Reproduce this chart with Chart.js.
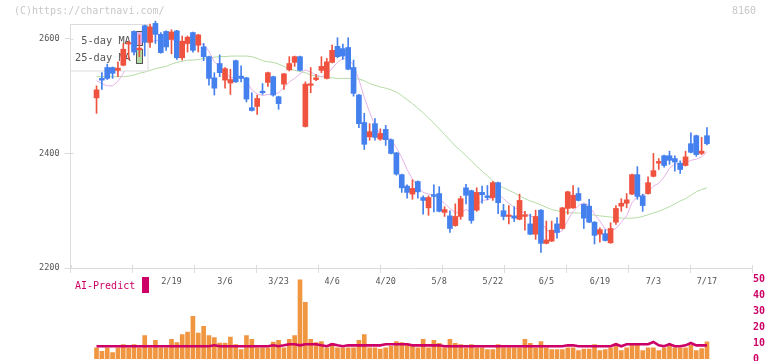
<!DOCTYPE html>
<html><head><meta charset="utf-8">
<script src="https://cdn.jsdelivr.net/npm/chart.js@4/dist/chart.umd.min.js"></script>
<style>
html,body{margin:0;padding:0;background:#fff;overflow:hidden;width:772px;height:361px}
#wrap{position:relative;width:772px;height:361px;overflow:hidden}
canvas{position:absolute;left:0;top:0}
.t{position:absolute;font-family:'DejaVu Sans Mono',monospace;white-space:pre;line-height:1}
</style></head><body>
<div id="wrap">
<canvas id="price" width="772" height="300" style="width:772px;height:300px"></canvas>
<canvas id="vol" width="772" height="380" style="width:772px;height:380px"></canvas>
<div class="t" style="left:14px;top:6px;font-size:10px;color:#c8c8c8">(C)https://chartnavi.com/</div>
<div class="t" style="left:732px;top:6px;font-size:10px;color:#c8c8c8">8160</div>
<div class="t" style="left:75px;top:281px;font-size:10px;color:#cc0066">AI-Predict</div>
<div style="position:absolute;left:142px;top:277px;width:7px;height:16px;background:#cc0066"></div>
</div>
<script>
// ---- data ----
const dateLabels = ['2/19','3/6','3/23','4/6','4/20','5/8','5/22','6/5','6/19','7/3','7/17'];
const dateIdx    = [14,24,34,44,54,64,74,84,94,104,114];
const priceTicks = [2200,2400,2600];

const openP = [2497,2531,2550,2550,2545,2554,2591,2613,2581,2623,
2594,2627,2608,2613,2599,2614,2567,2592,2611,2589,
2586,2569,2532,2557,2528,2523,2562,2535,2532,2480,
2482,2508,2524,2534,2499,2521,2546,2559,2569,2447,
2519,2529,2545,2531,2559,2587,2583,2585,2550,2502,
2454,2429,2452,2425,2442,2424,2401,2363,2343,2329,
2351,2323,2305,2328,2330,2297,2291,2274,2290,2340,
2335,2301,2332,2326,2323,2349,2300,2290,2291,2285,
2290,2277,2259,2301,2243,2247,2277,2269,2304,2305,
2330,2311,2308,2280,2259,2260,2244,2280,2308,2313,
2329,2363,2326,2330,2360,2383,2396,2396,2391,2383,
2379,2417,2431,2400,2431];
const highP = [2518,2541,2556,2551,2560,2592,2596,2614,2607,2624,
2626,2631,2611,2614,2616,2615,2605,2605,2612,2608,
2592,2570,2541,2572,2550,2547,2563,2553,2533,2506,
2502,2522,2542,2535,2500,2540,2569,2570,2570,2525,
2550,2538,2569,2566,2589,2602,2591,2602,2563,2503,
2470,2452,2461,2443,2449,2425,2402,2364,2345,2354,
2352,2326,2326,2345,2342,2307,2300,2312,2325,2346,
2336,2340,2343,2344,2351,2350,2311,2309,2307,2329,
2299,2294,2301,2302,2282,2282,2288,2306,2334,2344,
2340,2312,2320,2281,2270,2267,2279,2309,2321,2330,
2364,2377,2329,2359,2400,2391,2397,2404,2396,2387,
2404,2436,2432,2428,2445];
const lowP = [2470,2512,2529,2531,2534,2553,2564,2572,2569,2570,
2585,2592,2575,2580,2574,2564,2563,2577,2577,2577,
2562,2519,2502,2534,2514,2503,2524,2525,2490,2474,
2468,2503,2517,2500,2477,2512,2544,2552,2544,2446,
2506,2527,2541,2530,2558,2567,2564,2546,2500,2445,
2407,2423,2423,2423,2414,2399,2362,2332,2322,2320,
2322,2294,2292,2298,2298,2290,2262,2273,2285,2312,
2278,2299,2313,2319,2318,2295,2284,2277,2281,2284,
2266,2258,2250,2227,2242,2246,2252,2268,2294,2304,
2317,2269,2279,2242,2245,2247,2243,2276,2299,2305,
2328,2320,2299,2329,2359,2372,2376,2381,2369,2365,
2378,2401,2395,2398,2415];
const closeP = [2511,2528,2531,2540,2549,2582,2592,2577,2584,2594,
2621,2608,2576,2586,2612,2567,2596,2603,2580,2607,
2569,2531,2514,2541,2548,2529,2525,2531,2495,2475,
2496,2506,2541,2502,2487,2539,2557,2569,2545,2521,
2520,2532,2552,2560,2580,2569,2570,2547,2505,2452,
2416,2438,2428,2435,2424,2400,2364,2340,2332,2339,
2333,2318,2323,2325,2299,2302,2269,2290,2321,2327,
2283,2332,2328,2323,2349,2314,2290,2291,2287,2318,
2293,2259,2290,2243,2249,2266,2262,2305,2333,2327,
2318,2287,2280,2257,2267,2248,2269,2304,2313,2319,
2363,2325,2309,2349,2370,2386,2379,2388,2385,2372,
2394,2402,2398,2404,2417];
const ma5 = [2527,2522,2518,2518,2526,2540,2557,2568,2577,2586,
2594,2597,2597,2597,2601,2590,2587,2593,2592,2591,
2591,2578,2560,2552,2541,2533,2531,2535,2526,2511,
2504,2501,2503,2504,2506,2515,2525,2531,2539,2546,
2542,2537,2534,2537,2549,2559,2566,2565,2554,2529,
2498,2472,2448,2434,2428,2425,2410,2393,2372,2355,
2342,2332,2329,2328,2320,2313,2304,2297,2296,2302,
2298,2311,2318,2319,2323,2329,2321,2313,2306,2300,
2296,2290,2289,2281,2267,2261,2262,2265,2283,2299,
2309,2314,2309,2294,2282,2268,2264,2269,2280,2291,
2314,2325,2326,2333,2343,2348,2359,2374,2382,2382,
2384,2388,2390,2394,2403];
const ma25 = [2534,2534,2534,2534,2534,2534,2535,2537,2540,2542,
2545,2548,2550,2552,2556,2559,2561,2563,2563,2564,
2566,2567,2568,2569,2569,2570,2570,2570,2570,2569,
2566,2562,2560,2559,2556,2552,2547,2545,2543,2541,
2537,2535,2534,2533,2532,2531,2531,2531,2531,2530,
2527,2522,2519,2516,2514,2511,2507,2501,2494,2487,
2479,2471,2462,2453,2443,2433,2423,2413,2405,2396,
2387,2378,2369,2361,2352,2345,2340,2336,2331,2326,
2321,2317,2314,2310,2306,2302,2300,2298,2297,2296,
2296,2295,2294,2292,2291,2290,2289,2288,2287,2287,
2287,2288,2290,2293,2296,2299,2303,2307,2312,2317,
2321,2327,2333,2337,2340];
const volume = [7,4.9,7,4.1,7,9.1,7,9.1,7,14.8,
7,11.7,7,7,12.3,10.4,15.4,16.9,26.8,16.3,
20.5,14.8,13.4,10,10,13.8,9.1,6,14.8,12.3,
7,7,7,10.6,11.7,7,12.3,14.8,50.1,35.6,
12.3,10.4,11,7,9.9,7,7,7,7,11.7,
15.4,7,7,6.2,7.1,7.9,11,10.4,9.5,7.9,
7.1,12.3,7.1,11.7,9.9,7.1,12.3,9.9,9.1,7.1,
9.1,7.1,7.1,6,6,9.1,7.1,7.1,7.1,7.1,
12.3,9.9,7.1,11,7.1,6,6,6,7.1,7.1,
5.3,6.2,6.2,9.1,5.3,6,7.1,9.5,5.3,7.1,
9.1,9.1,5.3,7.1,7.1,5.3,7.1,7.9,7.1,7.1,
7.1,8.6,5.3,6.6,10.8];
const aiPredict = [8,8,8,8,8,8,8,8,8,8,
8,8,8,8,8,8,8,8,8,8,
8,8,8.6,8,8,8,8,8,8,8,
8,8,8,8.6,8,8.6,9.3,9.3,8.6,9.3,
9.3,9.3,8.6,8,9.3,8.6,8,8.6,8.6,8.6,
8.6,8.6,8.6,8.6,9.3,9.3,9.3,9.3,9.3,8.6,
8.6,8.6,8.6,8.6,8.6,8,8,8,8,8,
8,8,8,8,8,8,8,8,8,8,
8,8,8,8,8,8,8,8,8.6,8.6,
8,8,8,8,8,8,8,9.3,8,9.3,
9.3,9.3,9.3,9.3,10.7,8.6,8,9.3,8,8,
8.6,10.1,8.6,8.6,8.6];
const volTicks = [0,10,20,30,40,50];

// ---- layout constants (not data) ----
const X_MIN = -4.86, X_MAX = 122.41;
const RED = '#ef5340', BLUE = '#4480ee';
const MA5C = '#e6b2ea', MA25C = '#b4dca4';
const FONT = "'DejaVu Sans Mono', monospace";
const idx = closeP.map((_, i) => i);
const isUp = i => closeP[i] >= openP[i];

const legendPlugin = {
  id: 'maLegend',
  afterDatasetDraw(chart, args) {
    if (args.index !== 2) return;
    const ctx = chart.ctx;
    ctx.save();
    ctx.fillStyle = '#fff';
    ctx.fillRect(71, 24.5, 77, 46.5);
    ctx.strokeStyle = '#dcdcdc'; ctx.lineWidth = 1;
    ctx.strokeRect(70.5, 24.5, 77.5, 46.5);
    ctx.font = "10.3px " + FONT;
    ctx.fillStyle = '#555';
    ctx.textBaseline = 'alphabetic';
    ctx.textAlign = 'left';
    ctx.fillText('5-day MA', 81.2, 43.7);
    ctx.fillText('25-day MA', 75, 61.2);
    ctx.fillStyle = MA5C; ctx.fillRect(136.5, 31.5, 6, 14);
    ctx.strokeStyle = '#555'; ctx.strokeRect(136.5, 31.5, 6, 14);
    ctx.fillStyle = MA25C; ctx.fillRect(136.5, 49.5, 6, 14);
    ctx.strokeRect(136.5, 49.5, 6, 14);
    ctx.restore();
  }
};
const innerTicks = {
  id: 'innerTicks',
  afterDraw(chart) {
    const {ctx, chartArea: a, scales: {x, y}} = chart;
    ctx.save(); ctx.strokeStyle = '#dcdcdc'; ctx.lineWidth = 1;
    x.ticks.forEach(t => { if (!t.g) return;
      const px = Math.round(x.getPixelForValue(t.value)) + 0.5;
      ctx.beginPath(); ctx.moveTo(px, a.bottom - 3); ctx.lineTo(px, a.bottom); ctx.stroke(); });
    y.ticks.forEach(t => {
      const py = Math.round(y.getPixelForValue(t.value)) + 0.5;
      ctx.beginPath(); ctx.moveTo(a.left, py); ctx.lineTo(a.left + 3, py); ctx.stroke(); });
    ctx.restore();
  }
};

new Chart(document.getElementById('price'), {
  type: 'bar',
  data: { datasets: [
    { type: 'bar', label: 'body', data: idx.map(i => ({x: i, y: [openP[i], closeP[i]]})),
      backgroundColor: c => isUp(c.dataIndex) ? RED : BLUE, barThickness: 5, minBarLength: 1.5,
      grouped: false, order: 1, borderWidth: 0, clip: false },
    { type: 'bar', label: 'wick', data: idx.map(i => ({x: i, y: [lowP[i], highP[i]]})),
      backgroundColor: c => isUp(c.dataIndex) ? RED : BLUE, barThickness: 1,
      grouped: false, order: 2, borderWidth: 0, clip: false },
    { type: 'line', label: '5-day MA', data: idx.map(i => ({x: i, y: ma5[i]})),
      borderColor: MA5C, borderWidth: 1, pointRadius: 0, tension: 0, order: 3 },
    { type: 'line', label: '25-day MA', data: idx.map(i => ({x: i, y: ma25[i]})),
      borderColor: MA25C, borderWidth: 1, pointRadius: 0, tension: 0, order: 4 }
  ]},
  options: {
    responsive: false, animation: false, devicePixelRatio: 1,
    layout: { padding: { top: 24, right: 20, left: 0, bottom: 0 } },
    plugins: { legend: { display: false }, tooltip: { enabled: false } },
    scales: {
      x: {
        type: 'linear', min: X_MIN, max: X_MAX, offset: false,
        afterBuildTicks: s => {
          const t = [];
          for (let k = 0; k <= 11; k++) t.push({ value: X_MIN + k * (X_MAX - X_MIN) / 11, g: true });
          dateIdx.forEach((v, j) => t.push({ value: v, g: false, lab: dateLabels[j] }));
          t.sort((a, b) => a.value - b.value);
          s.ticks = t;
        },
        ticks: { autoSkip: false, maxRotation: 0, minRotation: 0, padding: 4, color: '#555',
          font: { family: FONT, size: 8.5 },
          callback: (v, i, ticks) => ticks[i].g ? '' : ticks[i].lab },
        grid: { offset: false, drawOnChartArea: false, tickLength: 5, lineWidth: 1,
          color: c => (c.tick && c.tick.g) ? '#dcdcdc' : 'rgba(0,0,0,0)' },
        border: { display: true, color: '#dcdcdc', width: 1 },
        afterFit: s => { s.height = 32; }
      },
      y: {
        min: 2200, max: 2626,
        afterBuildTicks: s => { s.ticks = priceTicks.map(v => ({ value: v })); },
        ticks: { color: '#555', padding: 5, font: { family: FONT, size: 8.5 }, callback: v => String(v) },
        grid: { drawOnChartArea: false, tickLength: 6, color: '#dcdcdc' },
        border: { display: true, color: '#dcdcdc', width: 1 },
        afterFit: s => { s.width = 70.5; }
      }
    }
  },
  plugins: [legendPlugin, innerTicks]
});

new Chart(document.getElementById('vol'), {
  type: 'bar',
  data: { datasets: [
    { type: 'line', label: 'AI-Predict', data: idx.map(i => ({x: i, y: aiPredict[i]})),
      borderColor: '#cc0066', borderWidth: 2.6, pointRadius: 0, tension: 0, order: 1 },
    { type: 'bar', label: 'Volume', data: idx.map(i => ({x: i, y: volume[i]})),
      backgroundColor: '#f09640', barThickness: 4, grouped: false, order: 2, borderWidth: 0 }
  ]},
  options: {
    responsive: false, animation: false, devicePixelRatio: 1,
    layout: { padding: { top: 279.5, right: 0, left: 70.5, bottom: 21 } },
    plugins: { legend: { display: false }, tooltip: { enabled: false } },
    scales: {
      x: { type: 'linear', min: X_MIN, max: X_MAX, offset: false, display: false, grid: { offset: false } },
      y: {
        position: 'right', min: 0, max: 50,
        afterBuildTicks: s => { s.ticks = volTicks.map(v => ({ value: v })); },
        ticks: { color: '#cc0066', padding: 1, font: { family: FONT, size: 10, weight: 'bold' }, callback: v => String(v) },
        grid: { display: false, drawTicks: false, tickLength: 0 }, border: { display: false },
        afterFit: s => { s.width = 20; }
      }
    }
  }
});
</script>
</body></html>
